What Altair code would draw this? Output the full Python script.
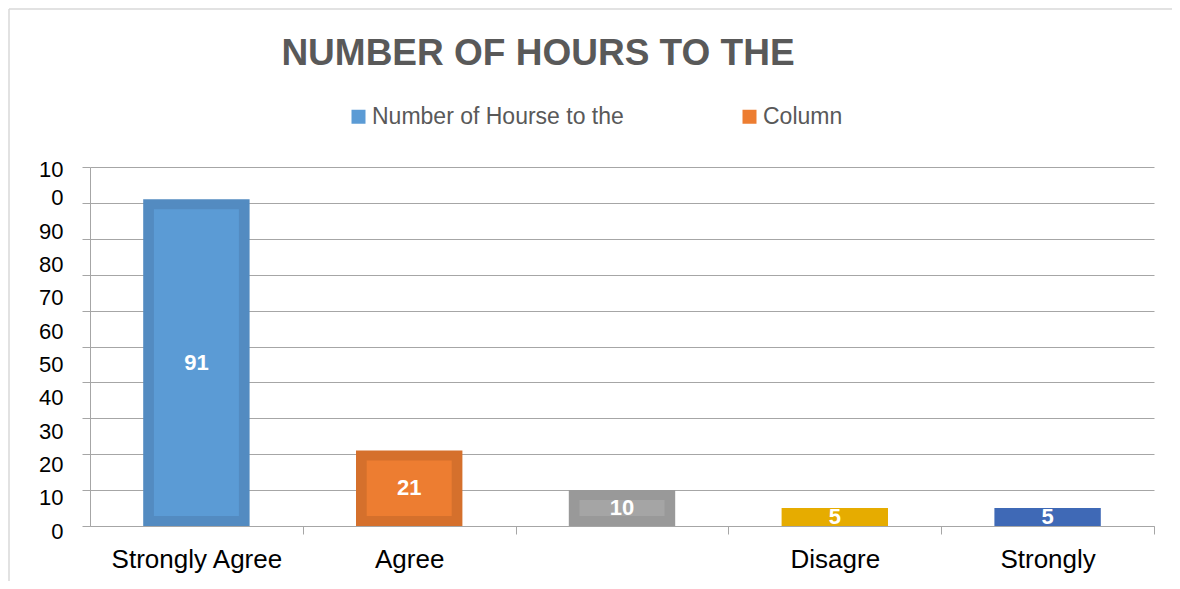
import altair as alt
import pandas as pd

categories = ["Strongly Agree", "Agree", " ", "Disagre", "Strongly"]
values = [91, 21, 10, 5, 5]
inner_colors = ["#5B9BD5", "#ED7D31", "#A5A5A5", "#E6AC00", "#3F69B6"]
outer_colors = ["#538BC1", "#D5702C", "#999999", "#E6AC00", "#3F69B6"]
series_names = ["Number of Hourse to the", "Column"]
series_colors = ["#5B9BD5", "#ED7D31"]
y_ticks = [0, 10, 20, 30, 40, 50, 60, 70, 80, 90, 100]

df = pd.DataFrame({
    "category": categories,
    "value": values,
    "inner": inner_colors,
    "outer": outer_colors,
})
legend_df = pd.DataFrame({"series": series_names})

FONT = "Liberation Sans"
PLOT_W = 1064
PLOT_H = 359
half_step = PLOT_W / len(categories) / 2

x_axis = alt.Axis(
    labelAngle=0,
    labelFontSize=26,
    labelColor="#000000",
    labelFont=FONT,
    labelPadding=12,
    tickOffset=half_step,
    labelOffset=-half_step,
    tickSize=8,
    tickColor="#A6A6A6",
    domainColor="#A6A6A6",
    grid=False,
)
x_enc = alt.X(
    "category:N",
    sort=categories,
    title=None,
    scale=alt.Scale(paddingInner=0.5, paddingOuter=0.25),
    axis=x_axis,
)

y_scale = alt.Scale(domain=[0, 100], nice=False)
y_axis = alt.Axis(
    values=y_ticks,
    tickCount=11,
    labelOverlap=False,
    labelExpr="datum.value == 100 ? ['10','0'] : datum.label",
    labelFontSize=22,
    labelColor="#000000",
    labelFont=FONT,
    labelPadding=19,
    labelLineHeight=28,
    labelOffset={"expr": "datum.value == 100 ? 2 : 5 + 0.26 * datum.value"},
    tickSize=8,
    tickColor="#A6A6A6",
    domainColor="#A6A6A6",
    grid=True,
    gridColor="#A6A6A6",
    gridWidth=1,
)

outer = alt.Chart(df).mark_bar().encode(
    x=x_enc,
    y=alt.Y("value:Q", scale=y_scale, title=None, axis=y_axis),
    color=alt.Color("outer:N", scale=None),
)

inner = alt.Chart(df).transform_filter("datum.value >= 10").mark_bar(
    yOffset=10, y2Offset=-10
).encode(
    x=x_enc,
    y=alt.Y("value:Q", scale=y_scale, title=None, axis=y_axis),
    y2=alt.datum(0),
    size=alt.value(85),
    color=alt.Color("inner:N", scale=None),
)

labels = alt.Chart(df).transform_calculate(mid="datum.value / 2").mark_text(
    color="white", fontWeight="bold", fontSize=22, font=FONT, baseline="middle"
).encode(
    x=x_enc,
    y=alt.Y("mid:Q", scale=y_scale, title=None, axis=y_axis),
    text=alt.Text("value:Q"),
)

legend_layer = alt.Chart(legend_df).mark_square(opacity=0).encode(
    fill=alt.Fill(
        "series:N",
        sort=series_names,
        scale=alt.Scale(domain=series_names, range=series_colors),
        legend=alt.Legend(
            title=None,
            orient="none",
            direction="horizontal",
            legendX=257,
            legendY=-62,
            padding=0,
            symbolType="square",
            symbolSize=196,
            symbolOpacity=1,
            symbolStrokeWidth=0,
            labelFontSize=23,
            labelFont=FONT,
            labelColor="#595959",
            labelOffset=2,
            labelLimit=0,
            columnPadding=114,
        ),
    ),
)

frame_df = pd.DataFrame({"k": [0]})
frame_top = alt.Chart(frame_df).mark_rule(color="#D9D9D9", strokeWidth=1.5).encode(
    x=alt.value(-81), x2=alt.value(1090), y=alt.value(-158)
)
frame_left = alt.Chart(frame_df).mark_rule(color="#D9D9D9", strokeWidth=1.5).encode(
    x=alt.value(-81), y=alt.value(-158), y2=alt.value(440)
)

chart = alt.layer(frame_top, frame_left, outer, inner, labels, legend_layer).properties(
    width=PLOT_W,
    height=PLOT_H,
    autosize=alt.AutoSizeParams(type="none"),
    padding={"left": 82, "top": 159, "right": 18, "bottom": 55},
    title=alt.Title(
        "NUMBER OF HOURS TO THE",
        fontSize=37,
        font=FONT,
        fontWeight="bold",
        color="#595959",
        anchor="middle",
        frame="group",
        baseline="alphabetic",
        dx=-84,
        dy=94,
        offset=0,
    ),
).configure_view(stroke=None)

chart.save("out.html", embed_options={"renderer": "svg", "actions": False})
